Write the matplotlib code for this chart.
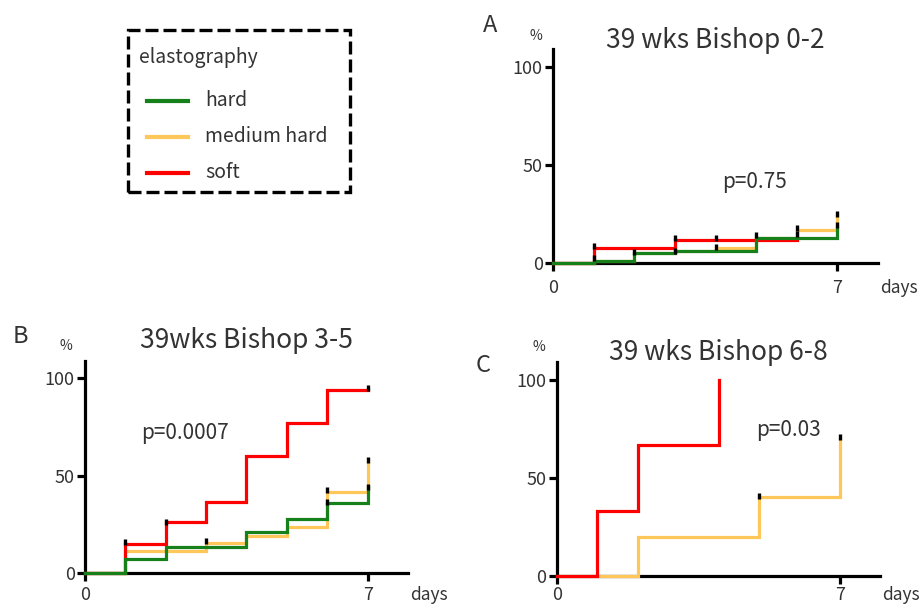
import matplotlib
matplotlib.use("Agg")
import matplotlib.pyplot as plt
from matplotlib.patches import Rectangle
from matplotlib.lines import Line2D

plt.rcParams['font.family'] = ['Noto Sans CJK JP', 'DejaVu Sans']

# Panel A: 39 wks Bishop 0-2 (cumulative %, step after each day)
a_soft_days = [0, 1, 3, 6]
a_soft_pct = [0, 7.5, 11.7, 11.7]
a_med_days = [0, 1, 2, 3, 4, 5, 6, 7]
a_med_pct = [0, 1, 5, 6.3, 7.5, 12.6, 16.8, 24.5]
a_hard_days = [0, 1, 2, 3, 5, 7]
a_hard_pct = [0, 1, 5, 6.3, 12.6, 17.7]
a_cens_days = [1, 1, 2, 3, 3, 4, 4, 5, 6, 6, 7, 7]
a_cens_pct = [8.7, 2.4, 5.8, 12.6, 6.3, 12.9, 8.3, 14.3, 18, 14.6, 24.8, 19.4]

# Panel B: 39wks Bishop 3-5
b_soft_days = [0, 1, 2, 3, 4, 5, 6, 7]
b_soft_pct = [0, 14.9, 26, 36.6, 60, 77, 94, 94]
b_med_days = [0, 1, 3, 4, 5, 6, 7]
b_med_pct = [0, 11.3, 15.2, 19, 23.7, 41.4, 58]
b_hard_days = [0, 1, 2, 4, 5, 6, 7]
b_hard_pct = [0, 7, 13.5, 20.9, 27.7, 35.7, 44]
b_cens_days = [1, 2, 3, 6, 6, 7, 7, 7]
b_cens_pct = [16, 26.3, 16.4, 42.6, 36.6, 95, 58, 44]

# Panel C: 39 wks Bishop 6-8
c_soft_days = [0, 1, 2, 4]
c_soft_pct = [0, 33.2, 66.8, 100]
c_med_days = [0, 2, 5, 7]
c_med_pct = [0, 20, 40, 70]
c_cens_days = [5, 7]
c_cens_pct = [41, 71]

groups = ['hard', 'medium hard', 'soft']
colors = {'hard': '#16801a', 'medium hard': '#ffc65a', 'soft': '#ff0000'}

W, H = 920, 606
fig = plt.figure(figsize=(W / 100, H / 100), dpi=100)


def fx(x):
    return x / W


def fy(y):
    return 1 - y / H


def make_axes(left, right, y0, top):
    return fig.add_axes([fx(left), fy(y0), (right - left) / W, (y0 - top) / H])


panels = [
    dict(rect=(553, 878, 263, 49.4), letter='A', letter_xy=(490, 25),
         title='39 wks Bishop 0-2', title_y=41, pct_xy=(536, 36),
         p='p=0.75', p_xy=(755, 182), xlab_y=288,
         series=[('medium hard', a_med_days, a_med_pct),
                 ('soft', a_soft_days, a_soft_pct),
                 ('hard', a_hard_days, a_hard_pct)],
         cens=(a_cens_days, a_cens_pct)),
    dict(rect=(85, 408, 573, 360.5), letter='B', letter_xy=(20, 336),
         title='39wks Bishop 3-5', title_y=341, pct_xy=(66, 346),
         p='p=0.0007', p_xy=(185, 433), xlab_y=595,
         series=[('medium hard', b_med_days, b_med_pct),
                 ('soft', b_soft_days, b_soft_pct),
                 ('hard', b_hard_days, b_hard_pct)],
         cens=(b_cens_days, b_cens_pct)),
    dict(rect=(556.7, 880.5, 576, 362), letter='C', letter_xy=(483, 365),
         title='39 wks Bishop 6-8', title_y=352, pct_xy=(539, 347),
         p='p=0.03', p_xy=(788, 430), xlab_y=595,
         series=[('medium hard', c_med_days, c_med_pct),
                 ('soft', c_soft_days, c_soft_pct)],
         cens=(c_cens_days, c_cens_pct)),
]

text_color = '#333333'

for pn in panels:
    ax = make_axes(*pn['rect'])
    for name, d, v in pn['series']:
        ax.step(d, v, where='post', color=colors[name], lw=2.3, zorder=3,
                clip_on=False, solid_joinstyle='miter')
    cd, cv = pn['cens']
    ax.plot(cd, cv, ls='none', marker='|', ms=4.5, mew=2.4, color='black',
            zorder=4, clip_on=False)

    ax.set_xlim(0, 8)
    ax.set_ylim(0, 109)
    ax.set_xticks([0, 7])
    ax.set_xticklabels([])
    ax.set_yticks([0, 50, 100])
    ax.set_yticklabels(['0', '50', '100'])
    for s in ['top', 'right']:
        ax.spines[s].set_visible(False)
    for s in ['left', 'bottom']:
        ax.spines[s].set_linewidth(2.3)
    ax.tick_params(axis='both', length=5.8, width=2.3, labelsize=13,
                   colors='black', labelcolor=text_color)
    ax.tick_params(axis='y', pad=1.5)
    ax.patch.set_visible(False)

    left, right, y0, top = pn['rect']
    ly = fy(pn['xlab_y'])
    xt = ax.get_xaxis_transform()
    # x tick labels and unit placed at a fixed pixel height
    for d, lab in [(0, '0'), (7, '7')]:
        xfig = fig.transFigure.inverted().transform(xt.transform((d, 0)))[0]
        fig.text(xfig, ly, lab, ha='center', va='center', fontsize=13,
                 color=text_color)
    xfig = fig.transFigure.inverted().transform(xt.transform((8.05, 0)))[0]
    fig.text(xfig, ly, 'days', ha='left', va='center', fontsize=12.5,
             color=text_color)

    fig.text(fx((left + right) / 2), fy(pn['title_y']), pn['title'],
             ha='center', va='center', fontsize=19, color=text_color)
    fig.text(fx(pn['letter_xy'][0]), fy(pn['letter_xy'][1]), pn['letter'],
             ha='center', va='center', fontsize=17, color=text_color)
    fig.text(fx(pn['pct_xy'][0]), fy(pn['pct_xy'][1]), '%',
             ha='center', va='center', fontsize=10, color=text_color)
    fig.text(fx(pn['p_xy'][0]), fy(pn['p_xy'][1]), pn['p'],
             ha='center', va='center', fontsize=15, color=text_color)

# legend box drawn in figure pixels
fig.add_artist(Rectangle((fx(128), fy(192)), (350 - 128) / W, (192 - 30) / H,
                         transform=fig.transFigure, fill=False, edgecolor='black',
                         lw=2.4, ls=(0, (3.9, 1.5))))
fig.text(fx(139), fy(58), 'elastography', ha='left', va='center',
         fontsize=14, color=text_color)
legend_y = {'hard': 101, 'medium hard': 137, 'soft': 173}
for g in groups:
    fig.add_artist(Line2D([fx(147), fx(188)], [fy(legend_y[g])] * 2,
                          transform=fig.transFigure, color=colors[g], lw=3))
    fig.text(fx(205), fy(legend_y[g]), g, ha='left', va='center',
             fontsize=14, color=text_color)

fig.savefig('out.png', dpi=100)
